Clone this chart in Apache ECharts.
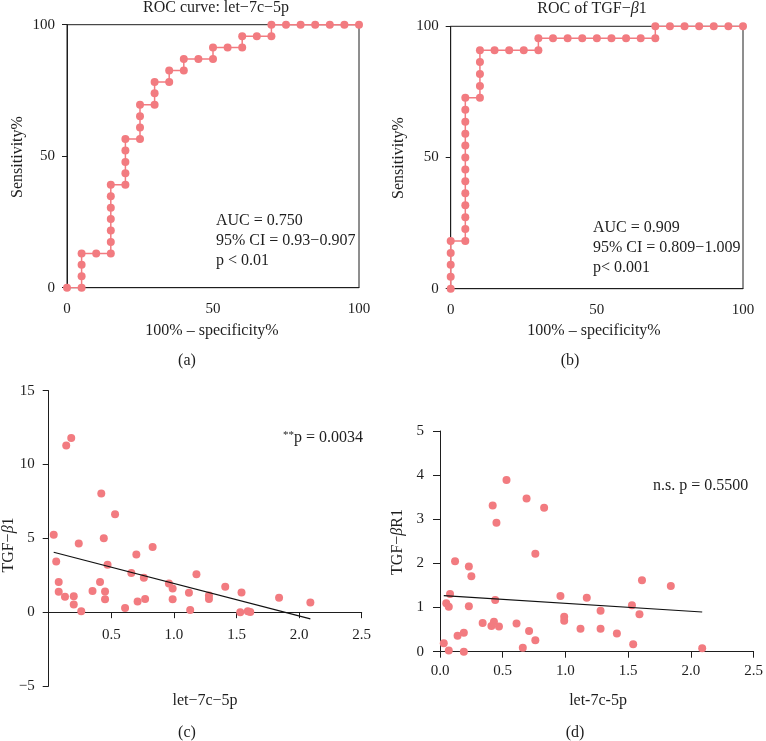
<!DOCTYPE html>
<html>
<head>
<meta charset="utf-8">
<script src="https://cdn.jsdelivr.net/npm/echarts@6/dist/echarts.min.js"></script>
<style>html,body{margin:0;padding:0;background:#fff;}#c{width:766px;height:741px;}</style>
</head>
<body>
<div id="c"></div>
<script>
// ---- Data ----
// ROC (a): let-7c-5p  [100% - specificity%, sensitivity%]
const rocA_fpr  = [0, 5, 5, 5, 5, 10, 15, 15, 15, 15, 15, 15, 15, 20, 20, 20, 20, 20, 25, 25, 25, 25, 30, 30, 30, 35, 35, 40, 40, 45, 50, 50, 55, 60, 60, 65, 70, 70, 75, 80, 85, 90, 95, 100];
const rocA_sens = [0, 0, 4.35, 8.70, 13.04, 13.04, 13.04, 17.39, 21.74, 26.09, 30.43, 34.78, 39.13, 39.13, 43.48, 47.83, 52.17, 56.52, 56.52, 60.87, 65.22, 69.57, 69.57, 73.91, 78.26, 78.26, 82.61, 82.61, 86.96, 86.96, 86.96, 91.30, 91.30, 91.30, 95.65, 95.65, 95.65, 100, 100, 100, 100, 100, 100, 100];
// ROC (b): TGF-beta1
const rocB_fpr  = [0, 0, 0, 0, 0, 5, 5, 5, 5, 5, 5, 5, 5, 5, 5, 5, 5, 5, 10, 10, 10, 10, 10, 15, 20, 25, 30, 30, 35, 40, 45, 50, 55, 60, 65, 70, 70, 75, 80, 85, 90, 95, 100];
const rocB_sens = [0, 4.55, 9.09, 13.64, 18.18, 18.18, 22.73, 27.27, 31.82, 36.36, 40.91, 45.45, 50, 54.55, 59.09, 63.64, 68.18, 72.73, 72.73, 77.27, 81.82, 86.36, 90.91, 90.91, 90.91, 90.91, 90.91, 95.45, 95.45, 95.45, 95.45, 95.45, 95.45, 95.45, 95.45, 95.45, 100, 100, 100, 100, 100, 100, 100];
// Scatter (c): let-7c-5p vs TGF-beta1
const scC_x = [0.04, 0.06, 0.08, 0.08, 0.13, 0.14, 0.18, 0.20, 0.20, 0.24, 0.26, 0.35, 0.41, 0.42, 0.44, 0.45, 0.45, 0.47, 0.53, 0.61, 0.66, 0.70, 0.71, 0.76, 0.77, 0.83, 0.96, 0.99, 0.99, 1.12, 1.13, 1.18, 1.28, 1.28, 1.41, 1.54, 1.53, 1.59, 1.61, 1.84, 2.09];
const scC_y = [5.24, 3.43, 2.05, 1.38, 1.04, 11.29, 11.80, 1.08, 0.52, 4.65, 0.07, 1.44, 2.05, 8.04, 5.01, 0.88, 1.40, 3.21, 6.64, 0.29, 2.66, 3.91, 0.72, 2.33, 0.90, 4.42, 1.94, 1.60, 0.88, 1.31, 0.14, 2.57, 1.13, 0.90, 1.72, 1.33, 0.00, 0.07, 0.02, 0.97, 0.65];
const fitC_x = [0.04, 2.09];
const fitC_y = [4.06, -0.45];
// Scatter (d): let-7c-5p vs TGF-betaR1
const scD_x = [0.03, 0.05, 0.07, 0.07, 0.08, 0.12, 0.14, 0.19, 0.19, 0.23, 0.23, 0.25, 0.34, 0.41, 0.42, 0.43, 0.44, 0.45, 0.47, 0.53, 0.61, 0.66, 0.69, 0.71, 0.76, 0.76, 0.83, 0.96, 0.99, 0.99, 1.12, 1.17, 1.28, 1.28, 1.41, 1.53, 1.54, 1.59, 1.61, 1.84, 2.09];
const scD_y = [0.19, 1.10, 1.02, 0.03, 1.31, 2.05, 0.36, 0.43, 0.00, 1.93, 1.03, 1.71, 0.65, 0.58, 3.31, 0.68, 1.17, 2.92, 0.57, 3.89, 0.64, 0.09, 3.47, 0.47, 0.26, 2.22, 3.26, 1.26, 0.79, 0.70, 0.52, 1.22, 0.52, 0.93, 0.41, 1.05, 0.17, 0.85, 1.62, 1.49, 0.08];
const fitD_x = [0.03, 2.09];
const fitD_y = [1.27, 0.90];
// Texts
const panelTitles = ['ROC curve: let\u22127c\u22125p', '{n|ROC of TGF\u2212}{i|\u03b2}{n|1}'];
const annA = ['AUC = 0.750', '95% CI = 0.93\u22120.907', 'p < 0.01'];
const annB = ['AUC = 0.909', '95% CI = 0.809\u22121.009', 'p< 0.001'];
const annC = '{s|**}{n|p = 0.0034}';
const annD = 'n.s. p = 0.5500';
const rocXName = '100% \u2013 specificity%';
const rocYName = 'Sensitivity%';
const scCYName = '{n|TGF\u2212}{i|\u03b2}{n|1}';
const scDYName = '{n|TGF\u2212}{i|\u03b2}{n|R1}';
const scCXName = 'let\u22127c\u22125p';
const scDXName = 'let-7c-5p';
const panelLetters = ['(a)', '(b)', '(c)', '(d)'];

const zip = (a, b) => a.map((v, i) => [v, b[i]]);

// ---- Style ----
const FONT = 'Liberation Serif';
const INK = '#1e1e1e';
const CORAL = '#F27B80';
const rich = {
  n: { fontFamily: FONT, fontSize: 16, color: INK },
  i: { fontFamily: FONT, fontSize: 16, color: INK, fontStyle: 'italic' },
  s: { fontFamily: FONT, fontSize: 11, color: INK, verticalAlign: 'top', padding: [0, 0, 6, 0] }
};

function axisX(grid, min, max, interval, opts) {
  return Object.assign({
    gridIndex: grid, type: 'value', min, max, interval,
    axisLine: { show: true, onZero: false, lineStyle: { color: INK, width: 1 } },
    axisTick: { show: true, length: 6, lineStyle: { color: INK } },
    axisLabel: { fontFamily: FONT, fontSize: 15, color: INK, margin: 14 },
    splitLine: { show: false }
  }, opts || {});
}
function axisY(grid, min, max, interval, opts) {
  return Object.assign({
    gridIndex: grid, type: 'value', min, max, interval,
    axisLine: { show: true, onZero: false, lineStyle: { color: INK, width: 1 } },
    axisTick: { show: true, length: 6, lineStyle: { color: INK } },
    axisLabel: { fontFamily: FONT, fontSize: 15, color: INK, margin: 13 },
    splitLine: { show: false }
  }, opts || {});
}

function txt(x, y, text, o) {
  o = o || {};
  return {
    type: 'text', x, y, rotation: o.rotation || 0, silent: true,
    style: {
      text, fontFamily: FONT, fontSize: o.fontSize || 16, fill: INK,
      align: o.align || 'center', verticalAlign: o.va || 'middle', rich: rich
    }
  };
}

const graphics = [
  txt(216, 8, panelTitles[0]),
  txt(592, 9, panelTitles[1]),
  txt(18, 157, rocYName, { rotation: Math.PI / 2 }),
  txt(399, 158, rocYName, { rotation: Math.PI / 2 }),
  txt(212, 331, rocXName),
  txt(594, 331, rocXName),
  txt(9, 545, scCYName, { rotation: Math.PI / 2 }),
  txt(398, 542, scDYName, { rotation: Math.PI / 2 }),
  txt(205, 701, scCXName),
  txt(598, 701, scDXName),
  txt(187, 361, panelLetters[0]),
  txt(570, 361, panelLetters[1]),
  txt(187, 733, panelLetters[2]),
  txt(575, 733, panelLetters[3]),
  txt(363, 438, annC, { align: 'right' }),
  txt(653, 486, annD, { align: 'left' })
];
annA.forEach((t, i) => graphics.push(txt(216, 221 + 20 * i, t, { align: 'left' })));
annB.forEach((t, i) => graphics.push(txt(593, 228 + 20 * i, t, { align: 'left' })));

const rocGrid = { show: true, borderColor: INK, borderWidth: 1, backgroundColor: 'transparent' };
// panel (c) x-axis sits at y = 0: distance from grid bottom = 5/20 of grid height
const gridCHeight = 295.3;
const gridCZeroOffset = -gridCHeight * 5 / 20;

const option = {
  animation: false,
  backgroundColor: '#fff',
  grid: [
    Object.assign({ left: 67, top: 24.7, width: 292, height: 263 }, rocGrid),
    Object.assign({ left: 450.7, top: 26.3, width: 292.3, height: 262.4 }, rocGrid),
    { left: 48.7, top: 390.7, width: 313, height: gridCHeight },
    { left: 440, top: 431, width: 316.7, height: 220.7 }
  ],
  xAxis: [
    axisX(0, 0, 100, 50, { axisTick: { show: false } }),
    axisX(1, 0, 100, 50, { axisTick: { show: false } }),
    axisX(2, 0, 2.5, 0.5, { offset: gridCZeroOffset, axisLabel: { fontFamily: FONT, fontSize: 15, color: INK, margin: 15, formatter: v => v === 0 ? '' : v.toFixed(1) } }),
    axisX(3, 0, 2.5, 0.5, { axisTick: { show: true, length: 6, lineStyle: { color: INK } }, axisLabel: { fontFamily: FONT, fontSize: 15, color: INK, margin: 12, formatter: v => v.toFixed(1) } })
  ],
  yAxis: [
    axisY(0, 0, 100, 50, { axisTick: { show: true, length: 5, lineStyle: { color: INK } }, axisLabel: { fontFamily: FONT, fontSize: 15, color: INK, margin: 12 } }),
    axisY(1, 0, 100, 50, { axisTick: { show: true, length: 5, lineStyle: { color: INK } }, axisLabel: { fontFamily: FONT, fontSize: 15, color: INK, margin: 12 } }),
    axisY(2, -5, 15, 5, { axisLabel: { fontFamily: FONT, fontSize: 15, color: INK, margin: 14, formatter: v => v < 0 ? '\u2212' + Math.abs(v) : String(v) } }),
    axisY(3, 0, 5, 1, { axisTick: { show: true, length: 7, lineStyle: { color: INK } }, axisLabel: { fontFamily: FONT, fontSize: 15, color: INK, margin: 16 } })
  ],
  series: [
    { type: 'line', xAxisIndex: 0, yAxisIndex: 0, data: zip(rocA_fpr, rocA_sens), symbol: 'circle', symbolSize: 8, showAllSymbol: true,
      lineStyle: { color: CORAL, width: 1.5 }, itemStyle: { color: CORAL }, z: 3 },
    { type: 'line', xAxisIndex: 1, yAxisIndex: 1, data: zip(rocB_fpr, rocB_sens), symbol: 'circle', symbolSize: 8, showAllSymbol: true,
      lineStyle: { color: CORAL, width: 1.5 }, itemStyle: { color: CORAL }, z: 3 },
    { type: 'scatter', xAxisIndex: 2, yAxisIndex: 2, data: zip(scC_x, scC_y), symbolSize: 8, itemStyle: { color: CORAL, opacity: 1 } },
    { type: 'line', xAxisIndex: 2, yAxisIndex: 2, data: zip(fitC_x, fitC_y), symbol: 'none', lineStyle: { color: '#111', width: 1.2 }, z: 4 },
    { type: 'scatter', xAxisIndex: 3, yAxisIndex: 3, data: zip(scD_x, scD_y), symbolSize: 8, itemStyle: { color: CORAL, opacity: 1 } },
    { type: 'line', xAxisIndex: 3, yAxisIndex: 3, data: zip(fitD_x, fitD_y), symbol: 'none', lineStyle: { color: '#111', width: 1.2 }, z: 4 }
  ],
  graphic: graphics
};

const chart = echarts.init(document.getElementById('c'), null, { renderer: 'canvas' });
chart.setOption(option);
</script>
</body>
</html>
